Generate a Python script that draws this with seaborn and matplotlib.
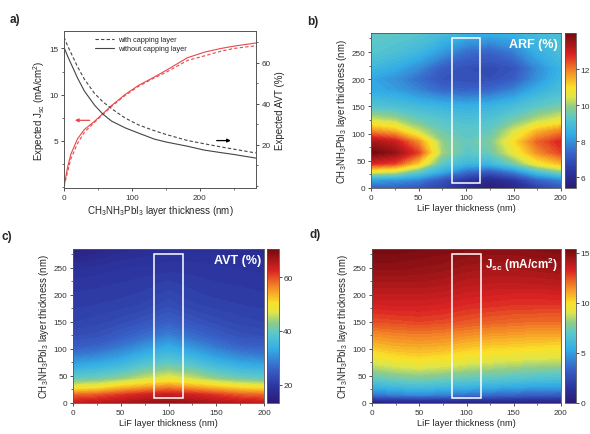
import numpy as np
import matplotlib
matplotlib.use("Agg")
import matplotlib.pyplot as plt
import seaborn as sns
from matplotlib.colors import LinearSegmentedColormap, Normalize
from matplotlib.cm import ScalarMappable
from matplotlib.patches import Rectangle
from matplotlib.ticker import MultipleLocator

# ---------------- data: panel a ----------------
thickness = [0, 5, 10, 20, 30, 45, 57, 70, 90, 110, 133, 150, 182, 207, 231, 250, 283]
avt_without = [67.5, 63.5, 59.8, 52.5, 46.2, 39.3, 35.0, 31.5, 28.2, 25.6, 22.7, 21.3, 19.2, 17.3, 16.1, 15.2, 13.4]
avt_with = [72.5, 68.5, 65, 58, 52, 45, 41, 37.6, 33, 29.6, 26.8, 25, 22, 20.4, 18.9, 17.8, 15.9]
jsc_without = [0, 2.0, 3.5, 5.2, 6.2, 7.1, 7.9, 8.8, 10.0, 11.0, 11.9, 12.6, 14.0, 14.6, 15.0, 15.25, 15.6]
jsc_with = [0, 1.5, 3.0, 4.7, 5.9, 7.0, 7.8, 8.7, 9.9, 10.9, 11.8, 12.4, 13.7, 14.2, 14.7, 15.0, 15.3]

# ---------------- data: maps (rows = perovskite thickness, cols = LiF thickness) ----------------
lif = [0, 25, 50, 75, 100, 125, 150, 175, 200]
pero = [0, 15, 30, 45, 65, 85, 105, 125, 150, 180, 200, 220, 250, 285]

arf = [
    [7.2, 7.2, 7.0, 6.6, 6.0, 5.5, 5.8, 6.5, 7.0],
    [8.2, 8.1, 7.8, 7.0, 6.3, 5.9, 6.3, 7.3, 7.8],
    [10.6, 10.4, 9.4, 8.4, 7.5, 7.1, 7.8, 9.0, 9.8],
    [12.8, 12.5, 11.2, 9.3, 8.7, 8.7, 9.6, 10.8, 11.4],
    [14.0, 13.6, 12.5, 10.0, 9.3, 9.5, 10.6, 11.8, 12.5],
    [13.4, 13.0, 11.8, 9.9, 9.4, 9.7, 11.0, 12.2, 12.8],
    [11.8, 11.4, 10.3, 9.5, 9.3, 9.4, 10.4, 11.4, 11.9],
    [10.4, 10.1, 9.5, 9.2, 9.0, 9.1, 9.6, 10.2, 10.6],
    [9.1, 9.0, 8.8, 8.6, 8.5, 8.6, 8.9, 9.3, 9.6],
    [8.4, 8.2, 7.8, 7.4, 7.3, 7.4, 7.8, 8.5, 8.9],
    [8.3, 8.0, 7.5, 7.0, 6.9, 6.9, 7.2, 8.0, 8.7],
    [8.7, 8.4, 7.9, 7.2, 6.9, 6.8, 7.0, 7.9, 8.6],
    [9.2, 9.0, 8.7, 8.1, 7.5, 7.3, 7.7, 8.5, 8.9],
    [9.4, 9.3, 9.2, 8.9, 8.6, 8.5, 8.6, 8.8, 9.0],
]

avt_map = [
    [64, 65, 66, 67, 68, 67, 66, 65, 64],
    [58, 59, 61, 63, 64, 63, 61, 59, 58],
    [48, 49, 52, 54, 56, 54, 52, 50, 49],
    [40, 41, 43, 46, 48, 46, 43, 41, 40],
    [34, 35, 37, 40, 42, 40, 37, 35, 34],
    [29, 30, 32, 35, 37, 35, 32, 30, 29],
    [25, 26, 28, 30.5, 33, 30.5, 28, 26, 25.5],
    [23, 23.5, 25, 27, 29, 27, 25, 23.5, 23],
    [21.5, 22, 22.8, 24, 25.5, 24, 22.8, 22, 21.5],
    [20.5, 20.8, 21.2, 21.8, 23, 21.8, 21.2, 20.8, 20.5],
    [20, 20.2, 20.5, 21, 22, 21, 20.5, 20.3, 20],
    [19.5, 19.7, 20, 20.4, 21, 20.4, 20, 19.8, 19.6],
    [18, 18.5, 19, 19.3, 19.5, 19.5, 19.3, 19, 18.8],
    [15, 16, 17, 17.5, 18, 18, 18, 17.5, 17],
]

jsc_map = [
    [0.2, 0.2, 0.2, 0.2, 0.2, 0.2, 0.2, 0.2, 0.2],
    [3.8, 4.2, 4.4, 4.2, 3.8, 3.6, 3.4, 3.2, 3.1],
    [5.6, 6.0, 6.2, 6.0, 5.7, 5.5, 5.3, 5.1, 5.0],
    [7.0, 7.4, 7.6, 7.4, 7.1, 6.9, 6.7, 6.5, 6.4],
    [8.4, 8.8, 9.0, 8.8, 8.5, 8.3, 8.1, 7.9, 7.8],
    [9.6, 10.0, 10.2, 10.0, 9.7, 9.5, 9.3, 9.2, 9.1],
    [10.6, 10.9, 11.0, 10.9, 10.6, 10.4, 10.3, 10.2, 10.1],
    [11.4, 11.6, 11.7, 11.6, 11.4, 11.2, 11.1, 11.0, 11.0],
    [12.5, 12.6, 12.7, 12.6, 12.4, 12.2, 12.1, 12.0, 12.0],
    [13.3, 13.4, 13.4, 13.3, 13.1, 13.0, 12.9, 12.9, 12.9],
    [13.8, 13.8, 13.8, 13.7, 13.5, 13.4, 13.3, 13.3, 13.4],
    [14.2, 14.2, 14.2, 14.1, 13.9, 13.8, 13.8, 13.8, 13.9],
    [14.8, 14.8, 14.7, 14.6, 14.4, 14.3, 14.3, 14.4, 14.5],
    [15.3, 15.3, 15.2, 15.1, 15.0, 14.9, 14.9, 15.0, 15.1],
]

# ---------------- style ----------------
sns.set_style("ticks")
plt.rcParams['font.family'] = ['Liberation Sans', 'DejaVu Sans']
plt.rcParams['mathtext.default'] = 'regular'
plt.rcParams['axes.linewidth'] = 0.6
plt.rcParams['axes.edgecolor'] = '#555555'
for k in ('xtick', 'ytick'):
    plt.rcParams[f'{k}.major.size'] = 2.5
    plt.rcParams[f'{k}.minor.size'] = 1.5
    plt.rcParams[f'{k}.major.width'] = 0.6
    plt.rcParams[f'{k}.minor.width'] = 0.5
    plt.rcParams[f'{k}.color'] = '#333333'
    plt.rcParams[f'{k}.labelsize'] = 5.9
    plt.rcParams[f'{k}.major.pad'] = 1.5
    plt.rcParams[f'{k}.direction'] = 'out'

cmap = LinearSegmentedColormap.from_list("origin_rainbow", [
    (0.00, (0.17, 0.10, 0.45)),
    (0.10, (0.17, 0.20, 0.62)),
    (0.22, (0.22, 0.38, 0.78)),
    (0.35, (0.20, 0.68, 0.90)),
    (0.45, (0.35, 0.78, 0.80)),
    (0.52, (0.55, 0.80, 0.55)),
    (0.59, (0.88, 0.90, 0.28)),
    (0.65, (0.98, 0.88, 0.16)),
    (0.75, (0.96, 0.55, 0.15)),
    (0.86, (0.86, 0.14, 0.14)),
    (1.00, (0.45, 0.04, 0.06)),
])

W, H = 590, 435
fig = plt.figure(figsize=(W / 100, H / 100), dpi=100)


def box(l, r, t, b):
    return [l / W, 1 - b / H, (r - l) / W, (b - t) / H]


red = '#e8474a'
gray = '#444444'
lab_fs = 7.0

# ---------------- panel a ----------------
ax = fig.add_axes(box(64, 256, 32, 189))
ax2 = ax.twinx()
sns.lineplot(x=thickness, y=jsc_with, ax=ax, color=red, lw=0.8, linestyle=(0, (3, 2)))
sns.lineplot(x=thickness, y=jsc_without, ax=ax, color=red, lw=0.8)
sns.lineplot(x=thickness, y=avt_with, ax=ax2, color=gray, lw=0.8, linestyle=(0, (3, 2)),
             label='with capping layer')
sns.lineplot(x=thickness, y=avt_without, ax=ax2, color=gray, lw=0.8,
             label='without capping layer')
ax.set_xlim(0, 283)
ax.set_ylim(-0.15, 16.9)
ax2.set_ylim(-1.2, 75.5)
ax.xaxis.set_major_locator(MultipleLocator(100))
ax.xaxis.set_minor_locator(MultipleLocator(50))
ax.set_yticks([5, 10, 15])
ax.yaxis.set_minor_locator(MultipleLocator(2.5))
ax2.set_yticks([20, 40, 60])
ax2.yaxis.set_minor_locator(MultipleLocator(10))
ax.set_xlabel('CH$_3$NH$_3$PbI$_3$ layer thickness (nm)', fontsize=lab_fs, labelpad=2)
ax.set_ylabel('Expected J$_{sc}$ (mA/cm$^2$)', fontsize=lab_fs, labelpad=2)
ax2.set_ylabel('Expected AVT (%)', fontsize=lab_fs, labelpad=3)
leg = ax2.legend(loc='upper left', bbox_to_anchor=(0.14, 0.995), frameon=False,
                 fontsize=5.3, handlelength=2.6, handletextpad=0.5, labelspacing=0.25,
                 borderaxespad=0.2)
ax.annotate('', xy=(12, 7.2), xytext=(42, 7.2),
            arrowprops=dict(arrowstyle='-|>', color=red, lw=0.9, mutation_scale=5))
ax.annotate('', xy=(250, 5.0), xytext=(221, 5.0),
            arrowprops=dict(arrowstyle='-|>', color='black', lw=0.9, mutation_scale=5))
fig.text(10 / W, 1 - 23 / H, 'a)', fontsize=8.5, fontweight='bold')


# ---------------- maps ----------------
def heat(axbox, cbox, Z, vmin, vmax, ticks, title, title_fs, label_px):
    axm = fig.add_axes(axbox)
    cax = fig.add_axes(cbox)
    levels = np.linspace(vmin, vmax, 70)
    axm.contourf(lif, pero, np.array(Z), levels=levels, cmap=cmap, extend='both')
    axm.set_xlim(0, 200)
    axm.set_ylim(0, 285)
    axm.add_patch(Rectangle((85, 10), 30, 265, fill=False, ec='white', lw=1.1, zorder=5))
    axm.xaxis.set_major_locator(MultipleLocator(50))
    axm.xaxis.set_minor_locator(MultipleLocator(25))
    axm.yaxis.set_major_locator(MultipleLocator(50))
    axm.yaxis.set_minor_locator(MultipleLocator(25))
    axm.set_xlabel('LiF layer thickness (nm)', fontsize=6.7, labelpad=2)
    axm.set_ylabel('CH$_3$NH$_3$PbI$_3$ layer thickness (nm)', fontsize=6.9, labelpad=2)
    axm.text(0.985, 0.965, title, transform=axm.transAxes, ha='right', va='top',
             color='white', fontweight='bold', fontsize=title_fs, zorder=6)
    sm = ScalarMappable(norm=Normalize(vmin, vmax), cmap=cmap)
    cb = fig.colorbar(sm, cax=cax, ticks=ticks)
    cb.outline.set_linewidth(0.6)
    cax.tick_params(labelsize=6.0, length=2.0, width=0.6, pad=1.0)
    fig.text(label_px[0] / W, 1 - label_px[1] / H, label_px[2], fontsize=8.5, fontweight='bold')
    return axm


heat(box(371, 561, 34, 189), box(565, 576, 34, 189), arf, 5.4, 14.0, [6, 8, 10, 12],
     'ARF (%)', 9, (307, 25, 'b)'))
heat(box(73, 264, 250, 404), box(267, 279, 250, 404), avt_map, 13.3, 70.4, [20, 40, 60],
     'AVT (%)', 9, (2, 240, 'c)'))
heat(box(372, 561, 250, 404), box(565, 576, 250, 404), jsc_map, 0, 15.4, [0, 5, 10, 15],
     r'J$_{sc}$ (mA/cm$^2$)', 8.5, (310, 238, 'd)'))

fig.savefig('out.png', dpi=100)
